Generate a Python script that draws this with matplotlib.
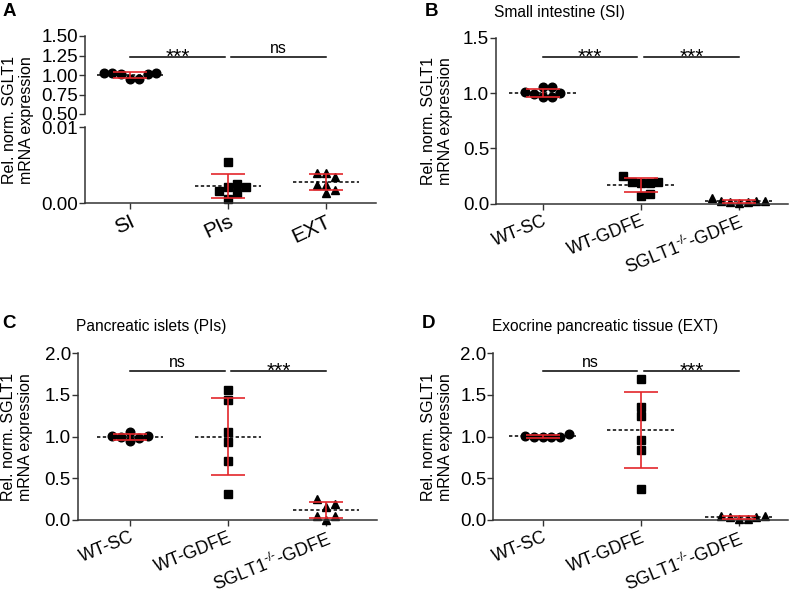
import numpy as np
import matplotlib.pyplot as plt

plt.rcParams['font.family'] = ['Liberation Sans', 'DejaVu Sans']
plt.rcParams['mathtext.fontset'] = 'custom'
plt.rcParams['mathtext.rm'] = 'Liberation Sans'
plt.rcParams['mathtext.it'] = 'Liberation Sans:italic'

# ---- data ----
a_groups = ['SI', 'PIs', 'EXT']
a_si = [1.026, 1.026, 1.010, 0.950, 0.950, 1.017, 1.026]
a_pis = [0.0025, 0.00215, 0.00136, 0.00162, 0.00215, 0.00057, 0.0054]
a_ext = [0.0040, 0.0040, 0.0034, 0.0024, 0.0024, 0.0013, 0.0017]
a_sig = ['***', 'ns']

groups = ['WT-SC', 'WT-GDFE', r'SGLT1$^{\text{-/-}}$-GDFE']

b_wtsc = [1.01, 0.99, 1.05, 0.96, 1.05, 0.96, 1.00]
b_wtgdfe = [0.199, 0.19, 0.253, 0.19, 0.199, 0.07, 0.085]
b_ko = [0.049, 0.02, 0.015, 0.004, 0.015, 0.02, 0.025]
b_sig = ['***', '***']

c_wtsc = [1.008, 1.0, 1.056, 0.944, 0.98, 1.008]
c_wtgdfe = [1.56, 1.44, 1.056, 0.93, 0.712, 0.312]
c_ko = [0.192, 0.16, 0.248, 0.048, 0.0, 0.048]
c_sig = ['ns', '***']

d_wtsc = [1.01, 1.0, 0.99, 0.99, 1.0, 1.03]
d_wtgdfe = [1.688, 1.352, 1.248, 0.96, 0.84, 0.372]
d_ko = [0.05, 0.03, 0.01, 0.01, 0.03, 0.05]
d_sig = ['ns', '***']

W, H = 790, 595
RED = '#e3262b'
AXC = '#333333'
markers = ['o', 's', '^']
msizes = [6.2, 5.6, 6.2]


def box(x0, y0, x1, y1):
    # pixel box (top-left origin) -> figure fraction
    return [x0 / W, 1 - y1 / H, (x1 - x0) / W, (y1 - y0) / H]


def spread(ax, x, vals, d=8.8, dy_min=8.0):
    # graphpad-like scatter: points closer than dy_min px in y are set side by side
    pts = ax.transData.transform(np.column_stack([np.full(len(vals), x), vals]))
    ys = pts[:, 1]
    xs = np.zeros(len(vals))
    placed = []
    for i in np.argsort(vals, kind='stable'):
        coll = [j for j in placed if abs(ys[i] - ys[j]) < dy_min]
        cands = [0.0] + [xs[j] + s * d for j in coll for s in (1, -1)]
        cands.sort(key=lambda c: (round(abs(c), 3), -c))
        for c in cands:
            if all(abs(c - xs[j]) >= d - 1e-6 for j in coll):
                xs[i] = c
                break
        placed.append(i)
    inv = ax.transData.inverted()
    return inv.transform(np.column_stack([pts[:, 0] + xs, ys]))[:, 0]


def draw_group(ax, x, vals, k):
    vals = np.array(vals)
    m = vals.mean()
    sd = vals.std(ddof=1)
    ax.hlines(m, x - 0.34, x + 0.34, colors='black', linestyles=(0, (2.2, 1.6)),
              lw=1.1, zorder=1)
    xs = spread(ax, x, vals)
    ax.plot(xs, vals, ls='none', marker=markers[k], ms=msizes[k], color='black',
            mec='black', zorder=2, clip_on=False)
    ax.errorbar(x, m, yerr=sd, fmt='none', ecolor=RED, elinewidth=1.2,
                capsize=12.5, capthick=1.2, zorder=3, clip_on=False)


def style(ax, bottom=True):
    for s in ['top', 'right']:
        ax.spines[s].set_visible(False)
    ax.spines['left'].set_color(AXC)
    ax.spines['bottom'].set_color(AXC)
    ax.spines['left'].set_linewidth(1.1)
    ax.spines['bottom'].set_linewidth(1.1)
    ax.tick_params(axis='both', length=4, width=1.0, color=AXC, labelsize=13.5)
    ax.tick_params(axis='y', pad=1)
    ax.tick_params(axis='x', pad=2.5)
    if not bottom:
        ax.spines['bottom'].set_visible(False)
        ax.tick_params(axis='x', bottom=False, labelbottom=False)


def sig(ax, y, labels):
    spans = [(0.0, 0.965), (1.035, 2.0)]
    for (x0, x1), lab in zip(spans, labels):
        ax.plot([x0, x1], [y, y], color='black', lw=1.1, clip_on=False)
        if lab == 'ns':
            ax.annotate(lab, xy=((x0 + x1) / 2, y), xytext=(0, 2.6),
                        textcoords='offset points', ha='center', va='baseline', fontsize=11.5)
        else:
            ax.annotate(lab, xy=((x0 + x1) / 2, y), xytext=(0, -4.5),
                        textcoords='offset points', ha='center', va='baseline', fontsize=15)


def xlabels(ax, labels, size=13, rot=22):
    ax.set_xticks(range(len(labels)))
    ax.set_xticklabels(labels, rotation=rot, ha='right', va='top',
                       rotation_mode='anchor', fontsize=size)


fig = plt.figure(figsize=(7.9, 5.95), dpi=100)

ylab = 'Rel. norm. SGLT1\nmRNA expression'

# ---- A: broken y axis ----
axA_top = fig.add_axes(box(85, 36, 376, 114))
axA_bot = fig.add_axes(box(85, 127, 376, 203))
for ax in (axA_top, axA_bot):
    ax.set_xlim(-0.46, 2.51)
axA_top.set_ylim(0.5, 1.5)
axA_top.set_yticks([0.5, 0.75, 1.0, 1.25, 1.5])
axA_top.set_yticklabels(['0.50', '0.75', '1.00', '1.25', '1.50'])
axA_bot.set_ylim(0, 0.01)
axA_bot.set_yticks([0, 0.01])
axA_bot.set_yticklabels(['0.00', '0.01'])
style(axA_top, bottom=False)
style(axA_bot)
xlabels(axA_bot, a_groups, size=15, rot=25)
draw_group(axA_top, 0, a_si, 0)
draw_group(axA_bot, 1, a_pis, 1)
draw_group(axA_bot, 2, a_ext, 2)
sig(axA_top, 1.235, a_sig)
fig.text(18 / W, 1 - 120 / H, ylab, rotation=90, ha='center', va='center',
         ma='center', fontsize=11.5)

# ---- B, C, D ----
panels = [
    (box(496, 37.7, 788, 203.7), (-0.477, 2.503), 1.5, [0, 0.5, 1.0, 1.5],
     [b_wtsc, b_wtgdfe, b_ko], b_sig, 1.328, 'Small intestine (SI)', 437, 13),
    (box(77.7, 353.3, 376.7, 520), (-0.534, 2.517), 2.0, [0, 0.5, 1.0, 1.5, 2.0],
     [c_wtsc, c_wtgdfe, c_ko], c_sig, 1.79, 'Pancreatic islets (PIs)', 17, 327),
    (box(493.3, 353.3, 788, 520), (-0.504, 2.503), 2.0, [0, 0.5, 1.0, 1.5, 2.0],
     [d_wtsc, d_wtgdfe, d_ko], d_sig, 1.79, 'Exocrine pancreatic tissue (EXT)', 437, 327),
]
for pos, xl, ytop, yt, data, sg, sy, title, ylx, tty in panels:
    ax = fig.add_axes(pos)
    ax.set_xlim(*xl)
    ax.set_ylim(0, ytop)
    ax.set_yticks(yt)
    ax.set_yticklabels(['%.1f' % v for v in yt])
    style(ax)
    xlabels(ax, groups, size=12.8)
    for k, vals in enumerate(data):
        draw_group(ax, k, vals, k)
    sig(ax, sy, sg)
    fig.text(pos[0] - 1.5 / W, 1 - tty / H, title, ha='left', va='center', fontsize=11.2)
    fig.text(ylx / W, pos[1] + pos[3] / 2, ylab, rotation=90,
             ha='center', va='center', ma='center', fontsize=11.5)

# panel letters
for lab, x, y in [('A', 3, 12), ('B', 425, 12), ('C', 2, 324), ('D', 422, 324)]:
    fig.text(x / W, 1 - y / H, lab, ha='left', va='center', fontsize=13.5, fontweight='bold')

fig.savefig('out.png', dpi=100)
